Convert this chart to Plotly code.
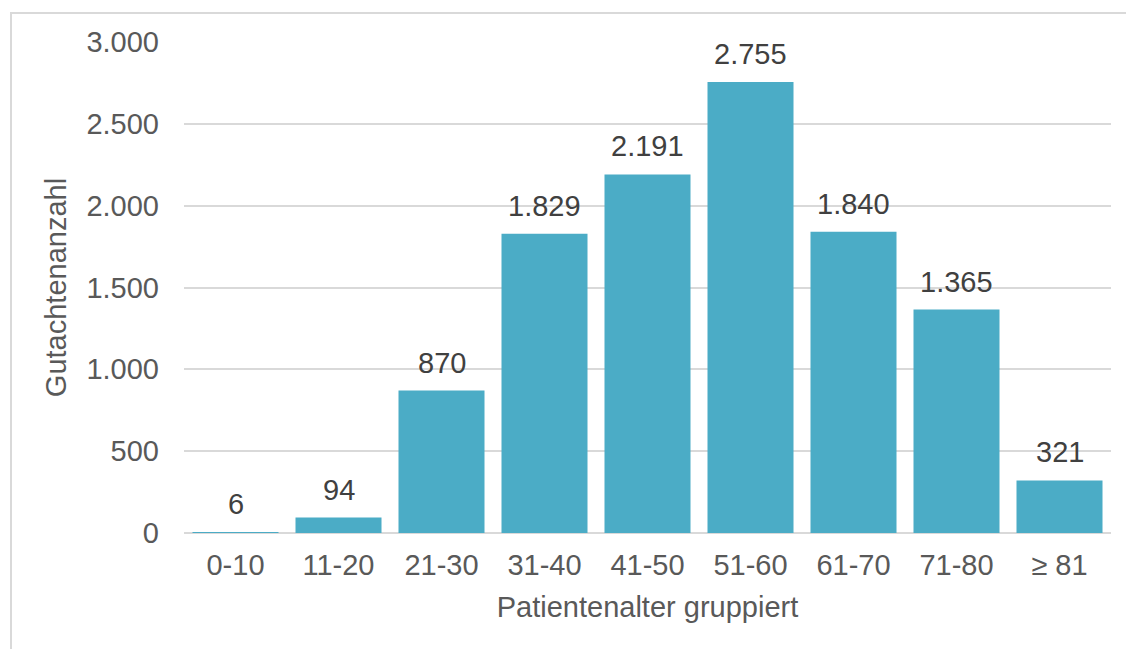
import plotly.graph_objects as go

categories = ["0-10", "11-20", "21-30", "31-40", "41-50", "51-60", "61-70", "71-80", "≥ 81"]
counts = [6, 94, 870, 1829, 2191, 2755, 1840, 1365, 321]
y_ticks = [0, 500, 1000, 1500, 2000, 2500, 3000]

bar_color = "#4BACC6"
font_family = "Liberation Sans, Arial, sans-serif"
FS = 29

# page body has an 8px margin, so the figure is drawn 8px smaller
W, H = 1126, 641
L, R, T, B = 176, 23, 34, 116
pw, ph = W - L - R, H - T - B


def de_fmt(v):
    return f"{v:,}".replace(",", ".")


fig = go.Figure()
fig.add_trace(go.Bar(
    x=categories,
    y=counts,
    marker=dict(color=bar_color, line=dict(width=0)),
    hoverinfo="x+y",
))

annotations = [
    dict(x=c, y=v, xref="x", yref="y", text=de_fmt(v), showarrow=False,
         yanchor="bottom", yshift=10,
         font=dict(family=font_family, size=FS, color="#404040"))
    for c, v in zip(categories, counts)
]

# outer frame (light gray border, cut off at right/bottom edges)
bx = (3 - L) / pw
by = 1 + (T - 5) / ph
shapes = [dict(type="rect", xref="paper", yref="paper",
               x0=bx, y0=-0.5, x1=1.2, y1=by,
               line=dict(color="#D9D9D9", width=2), fillcolor="rgba(0,0,0,0)",
               layer="below")]

fig.update_layout(
    width=W, height=H,
    margin=dict(l=L, r=R, t=T, b=B, autoexpand=False),
    paper_bgcolor="white", plot_bgcolor="white",
    separators=",.",
    bargap=0.165,
    showlegend=False,
    font=dict(family=font_family, size=FS, color="#595959"),
    annotations=annotations,
    shapes=shapes,
    xaxis=dict(
        type="category",
        showgrid=False, showline=False, zeroline=False,
        ticks="", ticklabelstandoff=12,
        tickfont=dict(size=FS, color="#595959"),
        title=dict(text="Patientenalter gruppiert", standoff=16,
                   font=dict(size=FS, color="#595959")),
        automargin=False,
    ),
    yaxis=dict(
        range=[0, 3000],
        tickvals=y_ticks,
        tickformat=",d",
        showgrid=True, gridcolor="#D9D9D9", gridwidth=2,
        zeroline=True, zerolinecolor="#D9D9D9", zerolinewidth=2,
        showline=False, ticks="", ticklabelstandoff=24,
        tickfont=dict(size=FS, color="#595959"),
        title=dict(text="Gutachtenanzahl", standoff=11,
                   font=dict(size=FS, color="#595959")),
        automargin=False,
    ),
)

fig.write_html("out.html")
